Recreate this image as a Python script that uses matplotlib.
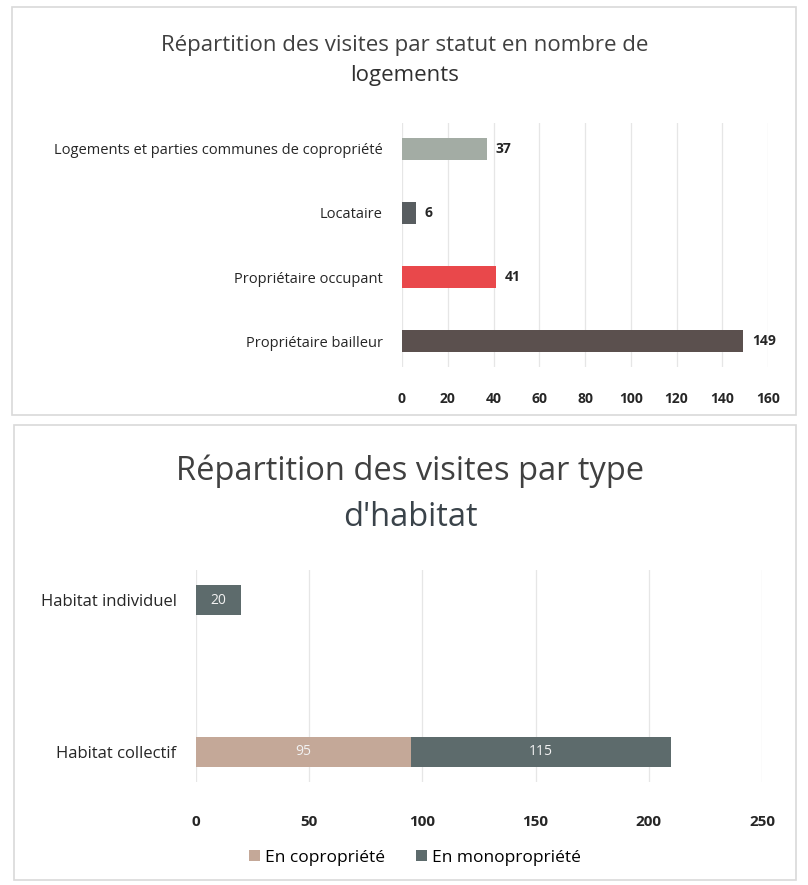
import numpy as np
import matplotlib
matplotlib.use("Agg")
import matplotlib.pyplot as plt
from matplotlib.patches import Rectangle

plt.rcParams['font.family'] = ['Open Sans', 'DejaVu Sans']

# chart 1 : visites par statut
statuts = ['Propriétaire bailleur', 'Propriétaire occupant', 'Locataire',
           'Logements et parties communes de copropriété']
nb_statut = [149, 41, 6, 37]
couleurs_statut = ['#5b504e', '#e9484b', '#585d60', '#a3aca4']
ticks_statut = [0, 20, 40, 60, 80, 100, 120, 140, 160]

# chart 2 : visites par type d'habitat
habitats = ['Habitat collectif', 'Habitat individuel']
copro = [95, 0]
mono = [115, 20]
ticks_habitat = [0, 50, 100, 150, 200, 250]
legende = ['En copropriété', 'En monopropriété']

W, H = 808, 885
fig = plt.figure(figsize=(W / 100, H / 100), dpi=100)
fig.patch.set_facecolor('white')


def px_axes(left, top, right, bottom):
    return fig.add_axes([left / W, 1 - bottom / H, (right - left) / W, (bottom - top) / H])


# frames around both charts
for (x0, y0, x1, y1) in [(12, 7, 796, 415), (14, 425, 796, 880)]:
    fig.patches.append(Rectangle((x0 / W, 1 - y1 / H), (x1 - x0) / W, (y1 - y0) / H,
                                 transform=fig.transFigure, fill=False,
                                 edgecolor='#d9d9d9', lw=1.2))

# ---- top chart
ax1 = px_axes(402, 123, 768, 367)
y = np.arange(len(statuts))
ax1.barh(y, nb_statut, height=0.34, color=couleurs_statut, zorder=3)
for yi, v in zip(y, nb_statut):
    ax1.text(v + 4, yi, str(v), va='center', ha='left', fontsize=10,
             fontweight='bold', color='#262626')
ax1.set_xlim(0, 160)
ax1.set_ylim(-0.4, 3.4)
ax1.set_xticks(ticks_statut)
ax1.set_yticks(y)
ax1.set_yticklabels(statuts, fontsize=10.5, color='#262626')
ax1.tick_params(axis='x', labelsize=10, colors='#262626', length=0, pad=18)
ax1.tick_params(axis='y', length=0, pad=14)
for lab in ax1.get_xticklabels():
    lab.set_fontweight('bold')
ax1.grid(axis='x', color='#e6e6e6', lw=0.9, zorder=0)
for s in ax1.spines.values():
    s.set_visible(False)
fig.text(405 / W, 1 - 45 / H, 'Répartition des visites par statut en nombre de',
         ha='center', va='center', fontsize=16, color='#404040')
fig.text(405 / W, 1 - 76 / H, 'logements', ha='center', va='center',
         fontsize=16, color='#303030')

# ---- bottom chart
ax2 = px_axes(196, 570, 762, 782)
y2 = np.arange(len(habitats))
b1 = ax2.barh(y2, copro, height=0.2, color='#c4a898', label=legende[0], zorder=3)
b2 = ax2.barh(y2, mono, left=copro, height=0.2, color='#5d6b6c', label=legende[1], zorder=3)
for yi, c, m in zip(y2, copro, mono):
    if c > 0:
        ax2.text(c / 2, yi, str(c), va='center', ha='center', fontsize=10, color='#f2f2f2')
    if m > 0:
        ax2.text(c + m / 2, yi, str(m), va='center', ha='center', fontsize=10, color='#f2f2f2')
ax2.set_xlim(0, 250)
ax2.set_ylim(-0.2, 1.2)
ax2.set_xticks(ticks_habitat)
ax2.set_yticks(y2)
ax2.set_yticklabels(habitats, fontsize=12, color='#262626')
ax2.tick_params(axis='x', labelsize=11, colors='#262626', length=0, pad=24)
ax2.tick_params(axis='y', length=0, pad=14)
for lab in ax2.get_xticklabels():
    lab.set_fontweight('bold')
ax2.grid(axis='x', color='#e6e6e6', lw=0.9, zorder=0)
for s in ax2.spines.values():
    s.set_visible(False)
fig.text(410 / W, 1 - 471 / H, 'Répartition des visites par type',
         ha='center', va='center', fontsize=23.5, color='#404040')
fig.text(410 / W, 1 - 518 / H, "d'habitat", ha='center', va='center',
         fontsize=23.5, color='#3a434a')
fig.legend(handles=[b1, b2], labels=legende, loc='center',
           bbox_to_anchor=(415 / W, 1 - 858 / H), ncol=2, frameon=False,
           fontsize=12.5, handlelength=0.6, handleheight=0.6, columnspacing=1.8,
           handletextpad=0.3)

fig.savefig('out.png', dpi=100)
